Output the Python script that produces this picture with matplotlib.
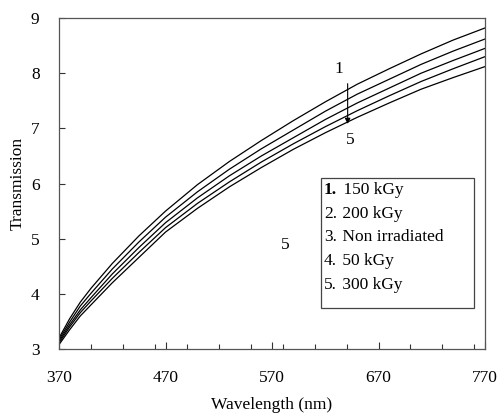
import matplotlib.pyplot as plt
from matplotlib.patches import Rectangle
from matplotlib.ticker import FixedLocator

plt.rcParams["font.family"] = ["Liberation Serif", "DejaVu Serif"]

# Datos
wavelength = [370, 380, 390, 400, 420, 445, 470, 500, 530, 560, 590, 620, 650, 680, 710, 740, 770]
curve_1 = [3.20, 3.55, 3.85, 4.10, 4.55, 5.05, 5.50, 5.98, 6.40, 6.78, 7.14, 7.48, 7.80, 8.08, 8.35, 8.60, 8.82]
curve_2 = [3.17, 3.49, 3.78, 4.01, 4.45, 4.94, 5.39, 5.85, 6.26, 6.63, 6.97, 7.31, 7.62, 7.89, 8.16, 8.40, 8.62]
curve_3 = [3.14, 3.44, 3.71, 3.93, 4.36, 4.84, 5.29, 5.74, 6.14, 6.50, 6.83, 7.16, 7.46, 7.73, 8.00, 8.23, 8.45]
curve_4 = [3.11, 3.40, 3.66, 3.87, 4.28, 4.75, 5.20, 5.64, 6.03, 6.39, 6.72, 7.03, 7.32, 7.59, 7.85, 8.08, 8.30]
curve_5 = [3.08, 3.35, 3.60, 3.80, 4.20, 4.66, 5.12, 5.55, 5.94, 6.29, 6.62, 6.92, 7.20, 7.46, 7.71, 7.92, 8.12]

legend_numbers = ["1.", "2.", "3.", "4.", "5."]
legend_labels = ["150 kGy", "200 kGy", "Non irradiated", "50 kGy", "300 kGy"]

x_major = [370, 470, 570, 670, 770]
x_minor = [400, 430, 460, 490, 520, 550, 580, 610, 640, 700, 730, 760]
y_ticks = [3, 4, 5, 6, 7, 8, 9]

FS = 12.5

fig = plt.figure(figsize=(4.98, 4.19), dpi=100)
ax = fig.add_axes([0.1185, 0.167, 0.8555, 0.79])

for serie in (curve_1, curve_2, curve_3, curve_4, curve_5):
    ax.plot(wavelength, serie, color="black", linewidth=0.9)

ax.set_xlim(370, 770)
ax.set_ylim(3, 9)
ax.xaxis.set_major_locator(FixedLocator(x_major))
ax.xaxis.set_minor_locator(FixedLocator(x_minor))
ax.set_yticks(y_ticks)

ax.tick_params(axis="x", which="major", direction="in", length=5, width=0.8,
               pad=15, labelsize=FS, color="#333333")
ax.tick_params(axis="x", which="minor", direction="in", length=3.5, width=0.8, color="#333333")
ax.tick_params(axis="y", which="major", direction="in", length=4, width=0.8,
               pad=14, labelsize=FS, color="#333333")

for spine in ax.spines.values():
    spine.set_color("#555555")
    spine.set_linewidth(0.9)

ax.set_xlabel("Wavelength (nm)", fontsize=FS, labelpad=8)
ax.set_ylabel("Transmission", fontsize=FS, labelpad=4)

# Flecha 1 -> 5
ax.annotate("", xy=(641, 7.03), xytext=(641, 7.86),
            arrowprops=dict(arrowstyle="-|>", color="black", lw=0.8, mutation_scale=8))
ax.text(633, 8.07, "1", ha="center", va="center", fontsize=FS)
ax.text(643, 6.79, "5", ha="center", va="center", fontsize=FS)
ax.text(582, 4.89, "5", ha="center", va="center", fontsize=FS)

# Cuadro de leyenda manual
ax.add_patch(Rectangle((0.614, 0.124), 0.36, 0.393, transform=ax.transAxes,
                       facecolor="white", edgecolor="#444444", linewidth=0.9, zorder=3))
for i, (num, label) in enumerate(zip(legend_numbers, legend_labels)):
    y = 0.48 - i * 0.0715
    weight = "bold" if i == 0 else "normal"
    ax.text(0.622, y, num, transform=ax.transAxes, ha="left", va="center",
            fontsize=FS, fontweight=weight, zorder=4)
    ax.text(0.622 + (0.035 if i == 0 else 0.033), y, " " + label, transform=ax.transAxes,
            ha="left", va="center", fontsize=FS, zorder=4)

fig.savefig("out.png", dpi=100)
